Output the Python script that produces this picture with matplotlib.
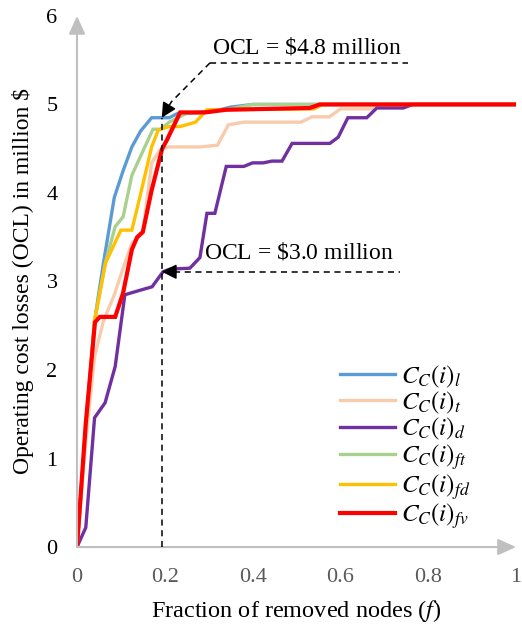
import matplotlib
matplotlib.use("Agg")
import matplotlib.pyplot as plt

plt.rcParams['font.family'] = ['Liberation Serif', 'DejaVu Serif']
plt.rcParams['mathtext.fontset'] = 'stix'

# removal curves: fraction of removed nodes vs operating cost losses (million $)
f_l = [0, 0.02, 0.04, 0.06, 0.085, 0.105, 0.125, 0.145, 0.17, 0.21, 0.23, 0.30, 0.35, 0.40, 1.0]
ocl_l = [0, 1.3, 2.55, 3.2, 3.95, 4.25, 4.52, 4.7, 4.85, 4.85, 4.9, 4.91, 4.97, 5.0, 5.0]

f_t = [0, 0.02, 0.04, 0.06, 0.085, 0.105, 0.125, 0.15, 0.17, 0.19, 0.21, 0.28, 0.32, 0.345,
       0.38, 0.51, 0.535, 0.575, 0.60, 0.675, 0.69, 1.0]
ocl_t = [0, 1.2, 2.15, 2.55, 2.85, 3.15, 3.43, 3.55, 4.34, 4.49, 4.52, 4.52, 4.54, 4.77,
         4.8, 4.8, 4.86, 4.86, 4.95, 4.95, 5.0, 5.0]

f_d = [0, 0.02, 0.04, 0.064, 0.087, 0.109, 0.143, 0.171, 0.196, 0.212, 0.257, 0.28, 0.296,
       0.314, 0.34, 0.38, 0.40, 0.424, 0.444, 0.467, 0.49, 0.576, 0.595, 0.617, 0.66, 0.683,
       0.743, 0.765, 1.0]
ocl_d = [0, 0.22, 1.46, 1.63, 2.04, 2.85, 2.9, 2.94, 3.11, 3.14, 3.15, 3.27, 3.77,
         3.77, 4.3, 4.3, 4.34, 4.34, 4.36, 4.36, 4.56, 4.56, 4.63, 4.85, 4.85, 4.96,
         4.96, 5.0, 5.0]

f_ft = [0, 0.02, 0.04, 0.065, 0.087, 0.105, 0.125, 0.148, 0.173, 0.19, 0.21, 0.25, 0.35, 0.40, 1.0]
ocl_ft = [0, 1.35, 2.55, 3.22, 3.62, 3.73, 4.2, 4.45, 4.72, 4.72, 4.8, 4.9, 4.95, 5.0, 5.0]

f_fd = [0, 0.02, 0.04, 0.065, 0.10, 0.125, 0.143, 0.17, 0.185, 0.21, 0.235, 0.27, 0.296,
        0.54, 0.56, 1.0]
ocl_fd = [0, 1.35, 2.56, 3.21, 3.58, 3.58, 3.95, 4.52, 4.71, 4.75, 4.75, 4.8, 4.94,
          4.95, 5.0, 5.0]

f_fv = [0, 0.02, 0.041, 0.052, 0.087, 0.105, 0.125, 0.137, 0.15, 0.17, 0.194, 0.205, 0.235,
        0.29, 0.34, 0.53, 0.553, 1.0]
ocl_fv = [0, 1.4, 2.54, 2.6, 2.6, 2.87, 3.36, 3.5, 3.56, 4.03, 4.5, 4.6, 4.91,
          4.91, 4.94, 4.96, 5.0, 5.0]

series = [
    (f_l, ocl_l, '#5B9BD5', r'$C_C(i)_l$'),
    (f_t, ocl_t, '#F8CBAD', r'$C_C(i)_t$'),
    (f_d, ocl_d, '#7030A0', r'$C_C(i)_d$'),
    (f_ft, ocl_ft, '#A9D18E', r'$C_C(i)_{ft}$'),
    (f_fd, ocl_fd, '#FFC000', r'$C_C(i)_{fd}$'),
    (f_fv, ocl_fv, '#FF0000', r'$C_C(i)_{fv}$'),
]

xticks = [0, 0.2, 0.4, 0.6, 0.8, 1]
xticklabels = ['0', '0.2', '0.4', '0.6', '0.8', '1']
yticks = [0, 1, 2, 3, 4, 5, 6]

# marked points
f_mark = 0.193
ocl_high = 4.85
ocl_low = 3.11

fig = plt.figure(figsize=(5.22, 6.3), dpi=100)
ax = fig.add_axes([0.1475, 0.1317, 0.841, 0.843])

for x, y, c, lab in series:
    lw = 3.0 if c == '#FF0000' else 2.4
    ax.plot(x, y, color=c, lw=lw, label=lab, solid_joinstyle='miter', zorder=3)

ax.set_xlim(0, 1)
ax.set_ylim(0, 6)
ax.set_xticks(xticks)
ax.set_xticklabels(xticklabels)
ax.set_yticks(yticks)
ax.tick_params(length=0, labelsize=16)
ax.tick_params(axis='x', colors='#595959', pad=15)
ax.tick_params(axis='y', labelcolor='black', pad=14)
for s in ax.spines.values():
    s.set_visible(False)

# axes with arrow heads
gray = '#BFBFBF'
for tip in [(1.0, 0), (0, 1.0)]:
    ax.annotate('', xy=tip, xytext=(0, 0), xycoords='axes fraction',
                arrowprops=dict(arrowstyle='-|>,head_length=1.1,head_width=0.5',
                                color=gray, lw=1.5, shrinkA=0, shrinkB=0),
                annotation_clip=False)

ax.set_xlabel('Fraction of removed nodes ($f$)', fontsize=17.5, labelpad=8)
ax.set_ylabel('Operating cost losses (OCL) in million $', fontsize=17, labelpad=9)

dash = (0, (4, 3))

# vertical guide at the marked fraction
ax.plot([f_mark, f_mark], [0, ocl_high], color='black', lw=1.1, ls=dash, zorder=4)

# upper annotation: text with underline, leader to the blue curve
ax.text(0.308, 5.52, 'OCL = $\\mathdefault{\\$4.8}$ million', fontsize=17, ha='left', va='bottom')
ax.plot([0.303, 0.754], [5.47, 5.47], color='black', lw=1.1, ls=dash, zorder=4)
ax.plot([0.303, 0.215], [5.47, 5.03], color='black', lw=1.1, ls=dash, zorder=4)
ax.annotate('', xy=(f_mark, ocl_high), xytext=(0.215, 5.03),
            arrowprops=dict(arrowstyle='-|>,head_length=0.9,head_width=0.45',
                            color='black', lw=1.1, shrinkA=0, shrinkB=0), zorder=5)

# lower annotation
ax.text(0.29, 3.2, 'OCL = $\\mathdefault{\\$3.0}$ million', fontsize=17, ha='left', va='bottom')
ax.plot([0.22, 0.736], [ocl_low, ocl_low], color='black', lw=1.1, ls=dash, zorder=4)
ax.annotate('', xy=(f_mark, ocl_low), xytext=(0.225, ocl_low),
            arrowprops=dict(arrowstyle='-|>,head_length=0.9,head_width=0.45',
                            color='black', lw=1.1, shrinkA=0, shrinkB=0), zorder=5)

ax.legend(loc='upper left', bbox_to_anchor=(0.6, 0.346), frameon=False, fontsize=18,
          handlelength=2.2, handletextpad=0.22, labelspacing=0.0, borderaxespad=0.0,
          borderpad=0.0)

fig.savefig('out.png', dpi=100)
